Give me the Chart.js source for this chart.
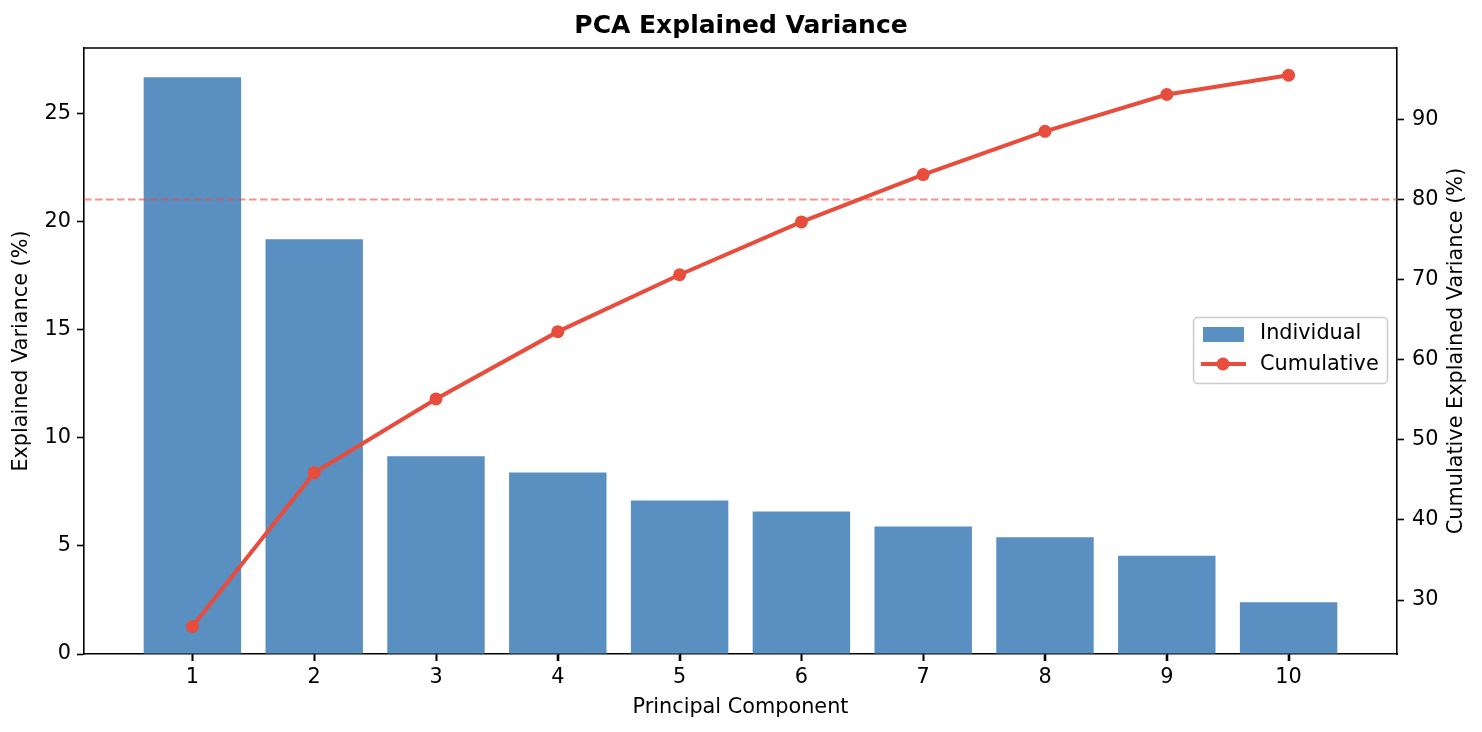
<!DOCTYPE html>
<html>
<head>
<meta charset="utf-8">
<title>PCA Explained Variance</title>
<script src="https://cdn.jsdelivr.net/npm/chart.js@4.4.1/dist/chart.umd.min.js"></script>
<style>
  html, body { margin: 0; padding: 0; background: #fff; }
</style>
</head>
<body>
<canvas id="pcaChart" width="1482" height="732"></canvas>
<script>
(function() {
    "use strict";

    // values
    const components = [1, 2, 3, 4, 5, 6, 7, 8, 9, 10];
    const individualVariance = [26.7, 19.2, 9.15, 8.4, 7.1, 6.6, 5.9, 5.4, 4.55, 2.4];
    const cumulativeVariance = [26.7, 45.9, 55.1, 63.5, 70.6, 77.2, 83.1, 88.5, 93.1, 95.5];
    const leftTicks = [0, 5, 10, 15, 20, 25];
    const rightTicks = [30, 40, 50, 60, 70, 80, 90];
    const thresholdValue = 80;

    const barColor = 'rgb(90, 143, 194)';
    const lineColor = '#e74c3c';
    const dashColor = 'rgba(231, 76, 60, 0.6)';
    const fontFamily = "'DejaVu Sans', 'Liberation Sans', sans-serif";
    const fontSize = 20.8;

    // x limits like matplotlib auto margins (bars 0.6..10.4 plus 5%)
    const xMin = 0.11, xMax = 10.89;

    const barPoints = components.map((c, i) => ({ x: c, y: individualVariance[i] }));
    const linePoints = components.map((c, i) => ({ x: c, y: cumulativeVariance[i] }));
    const thresholdPoints = [{ x: xMin, y: thresholdValue }, { x: xMax, y: thresholdValue }];

    // top spine, x tick marks, right axis title (bottom-to-top) and legend box
    const framePlugin = {
        id: 'frameAndLegend',
        afterDraw(chart) {
            const ctx = chart.ctx;
            const a = chart.chartArea;
            const xScale = chart.scales.x;
            ctx.save();
            ctx.strokeStyle = '#000';
            ctx.lineWidth = 1.6;
            ctx.beginPath();
            ctx.moveTo(a.left, a.top);
            ctx.lineTo(a.right, a.top);
            components.forEach(function(c) {
                const px = Math.round(xScale.getPixelForValue(c)) + 0.5;
                ctx.moveTo(px, a.bottom);
                ctx.lineTo(px, a.bottom + 7);
            });
            ctx.stroke();

            ctx.fillStyle = '#000';
            ctx.font = fontSize + 'px ' + fontFamily;
            ctx.textAlign = 'center';
            ctx.textBaseline = 'middle';
            ctx.translate(1457, (a.top + a.bottom) / 2);
            ctx.rotate(-Math.PI / 2);
            ctx.fillText('Cumulative Explained Variance (%)', 0, 0);
            ctx.setTransform(1, 0, 0, 1, 0, 0);

            // legend
            const bx = 1193.5, by = 317.5, bw = 194, bh = 66;
            ctx.fillStyle = 'rgba(255,255,255,0.8)';
            ctx.strokeStyle = '#cccccc';
            ctx.lineWidth = 1.5;
            ctx.beginPath();
            ctx.roundRect(bx, by, bw, bh, 4);
            ctx.fill();
            ctx.stroke();

            ctx.fillStyle = barColor;
            ctx.fillRect(1203, 327, 41, 15);

            ctx.strokeStyle = lineColor;
            ctx.lineWidth = 4;
            ctx.beginPath();
            ctx.moveTo(1201, 364);
            ctx.lineTo(1246, 364);
            ctx.stroke();
            ctx.fillStyle = lineColor;
            ctx.beginPath();
            ctx.arc(1223, 364, 6.5, 0, Math.PI * 2);
            ctx.fill();

            ctx.fillStyle = '#000';
            ctx.textAlign = 'left';
            ctx.textBaseline = 'middle';
            ctx.fillText('Individual', 1260, 334);
            ctx.fillText('Cumulative', 1260, 365);
            ctx.restore();
        }
    };

    const ctx = document.getElementById('pcaChart').getContext('2d');
    const pcaChart = new Chart(ctx, {
        data: {
            datasets: [
                {
                    type: 'line',
                    label: 'Cumulative',
                    data: linePoints,
                    yAxisID: 'y2',
                    borderColor: lineColor,
                    backgroundColor: lineColor,
                    borderWidth: 4,
                    pointRadius: 6.5,
                    pointBorderWidth: 0,
                    pointBackgroundColor: lineColor,
                    tension: 0,
                    order: 0
                },
                {
                    type: 'line',
                    label: '80% threshold',
                    data: thresholdPoints,
                    yAxisID: 'y2',
                    borderColor: dashColor,
                    borderWidth: 2,
                    borderDash: [7.5, 3.5],
                    pointRadius: 0,
                    order: 1
                },
                {
                    type: 'bar',
                    label: 'Individual',
                    data: barPoints,
                    yAxisID: 'y',
                    backgroundColor: barColor,
                    borderWidth: 0,
                    barPercentage: 0.8,
                    categoryPercentage: 1.0,
                    order: 2
                }
            ]
        },
        options: {
            responsive: false,
            animation: false,
            layout: { padding: 0 },
            plugins: {
                legend: { display: false },
                tooltip: { enabled: false },
                title: {
                    display: true,
                    text: 'PCA Explained Variance',
                    color: '#000',
                    font: { family: fontFamily, size: 25, weight: 'bold', lineHeight: 1.2 },
                    padding: { top: 11, bottom: 7 }
                }
            },
            scales: {
                x: {
                    type: 'linear',
                    min: xMin,
                    max: xMax,
                    offset: false,
                    afterBuildTicks: function(scale) {
                        scale.ticks = components.map(v => ({ value: v }));
                    },
                    afterFit: function(scale) { scale.height = 78; },
                    ticks: {
                        color: '#000',
                        font: { family: fontFamily, size: fontSize },
                        padding: 4,
                        maxRotation: 0,
                        autoSkip: false
                    },
                    grid: {
                        offset: false,
                        drawOnChartArea: false,
                        tickLength: 7,
                        tickColor: '#000',
                        tickWidth: 1.6
                    },
                    border: { color: '#000', width: 1.6 },
                    title: {
                        display: true,
                        text: 'Principal Component',
                        color: '#000',
                        font: { family: fontFamily, size: fontSize, lineHeight: 1.2 },
                        padding: { top: 0, bottom: 12 }
                    }
                },
                y: {
                    type: 'linear',
                    position: 'left',
                    min: 0,
                    max: 28.05,
                    afterBuildTicks: function(scale) {
                        scale.ticks = leftTicks.map(v => ({ value: v }));
                    },
                    afterFit: function(scale) { scale.width = 84; },
                    ticks: {
                        color: '#000',
                        font: { family: fontFamily, size: fontSize },
                        padding: 6
                    },
                    grid: {
                        drawOnChartArea: false,
                        tickLength: 7,
                        tickColor: '#000',
                        tickWidth: 1.6
                    },
                    border: { color: '#000', width: 1.6 },
                    title: {
                        display: true,
                        text: 'Explained Variance (%)',
                        color: '#000',
                        font: { family: fontFamily, size: fontSize, lineHeight: 1.2 },
                        padding: { top: 9, bottom: 0 }
                    }
                },
                y2: {
                    type: 'linear',
                    position: 'right',
                    min: 23.27,
                    max: 98.9,
                    afterBuildTicks: function(scale) {
                        scale.ticks = rightTicks.map(v => ({ value: v }));
                    },
                    afterFit: function(scale) { scale.width = 85; },
                    ticks: {
                        color: '#000',
                        font: { family: fontFamily, size: fontSize },
                        padding: 8
                    },
                    grid: {
                        drawOnChartArea: false,
                        tickLength: 7,
                        tickColor: '#000',
                        tickWidth: 1.6
                    },
                    border: { color: '#000', width: 1.6 },
                    title: { display: false }
                }
            }
        },
        plugins: [framePlugin]
    });
})();
</script>
</body>
</html>
